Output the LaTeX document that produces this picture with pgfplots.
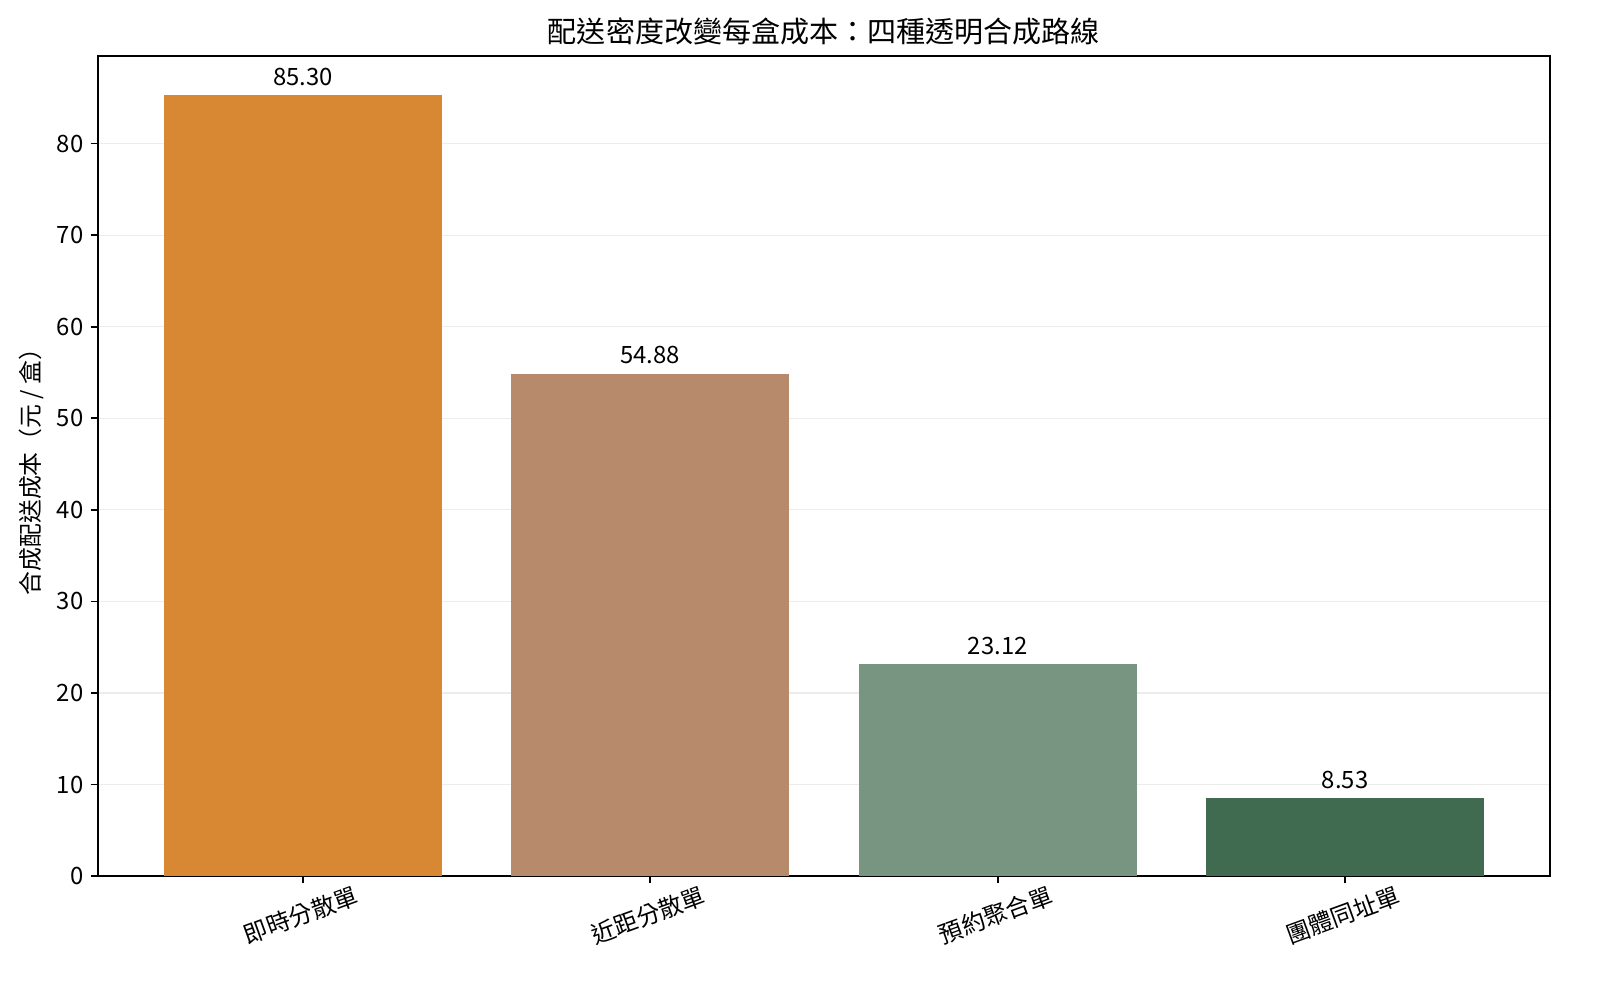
\documentclass[border=0pt]{standalone}
\usepackage{pgfplots}
\pgfplotsset{compat=1.18}
\usepackage{fontspec}
\setmainfont{Noto Sans CJK TC}
\definecolor{cA}{RGB}{216,135,50}
\definecolor{cB}{RGB}{182,138,106}
\definecolor{cC}{RGB}{120,149,130}
\definecolor{cD}{RGB}{64,107,80}
\begin{document}
\begin{tikzpicture}
\begin{axis}[
    at={(0,0)}, anchor=south west,
    scale only axis,
    width=697bp, height=393.6bp,
    xmin=-0.59, xmax=3.59,
    ymin=0, ymax=89.57,
    xtick={0,1,2,3},
    xticklabels={即時分散單,近距分散單,預約聚合單,團體同址單},
    xticklabel style={xshift=-4bp, yshift=-7bp, rotate=20, anchor=north, font=\fontsize{11.5}{13}\selectfont},
    ytick={0,10,...,80},
    yticklabel style={font=\fontsize{11.5}{13}\selectfont},
    /pgf/number format/assume math mode=true,
    tick align=outside,
    major tick length=3.5bp,
    xtick pos=bottom, ytick pos=left,
    ymajorgrids,
    grid style={gray!15, line width=0.6bp},
    axis line style={line width=0.8bp},
    tick style={line width=0.8bp, black},
    ylabel={合成配送成本（元 / 盒）},
    ylabel style={font=\fontsize{11.5}{13}\selectfont, yshift=-0.5bp},
    title={配送密度改變每盒成本：四種透明合成路線},
    title style={font=\fontsize{14}{16}\selectfont, yshift=-4bp},
    ybar, bar width=0.8,
    nodes near coords={\pgfmathprintnumber[fixed,fixed zerofill,precision=2]{\pgfplotspointmeta}},
    nodes near coords style={font=\fontsize{11.5}{13}\selectfont, yshift=1bp},
]
\addplot[ybar, bar shift=0, fill=cA, draw=none] coordinates {(0,85.30)};
\addplot[ybar, bar shift=0, fill=cB, draw=none] coordinates {(1,54.88)};
\addplot[ybar, bar shift=0, fill=cC, draw=none] coordinates {(2,23.12)};
\addplot[ybar, bar shift=0, fill=cD, draw=none] coordinates {(3,8.53)};
\end{axis}
\pgfresetboundingbox
\path[use as bounding box] (-47bp,-52.8bp) rectangle (720.5bp,420.5bp);
\end{tikzpicture}
\end{document}
